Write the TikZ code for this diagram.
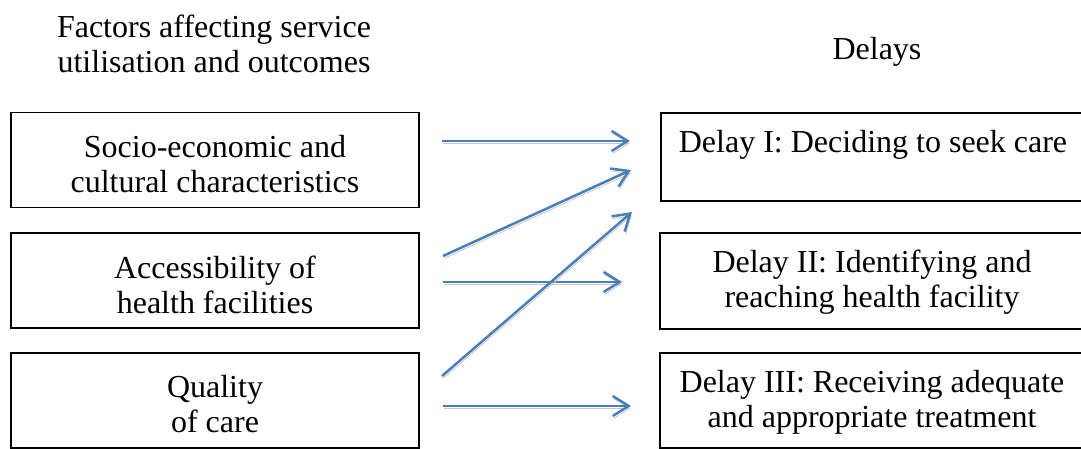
\documentclass[tikz,border=0pt]{standalone}
\usepackage{fontspec}
\setmainfont{Liberation Serif}
\usetikzlibrary{arrows.meta,calc}
\definecolor{arrblue}{HTML}{4A7EBB}
\definecolor{shadowgray}{HTML}{C8C8C8}
\begin{document}
\begin{tikzpicture}[x=0.5pt,y=-0.5pt,
  every node/.style={font=\fontsize{16}{17.5}\selectfont, align=center, inner sep=0pt},
  factorbox/.style={draw=black, line width=0.7pt, minimum width=204pt, minimum height=47.5pt},
  delaybox/.style={draw=black, line width=0.7pt, minimum width=212pt, minimum height=47.5pt},
  arr/.style={-{Straight Barb[length=8pt,width=10pt]}, line width=1.25pt, draw=arrblue,
    preaction={draw=shadowgray, transform canvas={xshift=0.5pt,yshift=-1.2pt}}}]
\useasboundingbox (0,0) rectangle (1081,449);
\node (h1) at (214,44) {Factors affecting service\\utilisation and outcomes};
\node (h2) at (877,52) {Delays};
\node[factorbox] (f1) at (215,160) {};
\node[factorbox] (f2) at (215,280.5) {};
\node[factorbox] (f3) at (215,400.5) {};
\node[delaybox, minimum height=44pt] (d1) at (873,157) {};
\node[delaybox, minimum height=48pt] (d2) at (872,281) {};
\node[delaybox] (d3) at (872,400.5) {};
\node (f1t) at ($(f1)+(0,4)$) {Socio-economic and\\cultural characteristics};
\node (f2t) at ($(f2)+(0,4)$) {Accessibility of\\health facilities};
\node (f3t) at ($(f3)+(0,4)$) {Quality\\of care};
\node (d1t) at ($(d1)+(0,-12)$) {Delay I: Deciding to seek care};
\node (d2t) at ($(d2)+(0,1)$) {Delay II: Identifying and\\reaching health facility};
\node (d3t) at ($(d3)+(0,2)$) {Delay III: Receiving adequate\\and appropriate treatment};
\coordinate (s1) at (442,141);
\coordinate (t1) at (630,141);
\coordinate (s2) at (443,256);
\coordinate (t2) at (631,170);
\coordinate (s3) at (442,376);
\coordinate (t3) at (632,212);
\coordinate (s4) at (443,282);
\coordinate (t4) at (622,282);
\coordinate (s5) at (443,406);
\coordinate (t5) at (631,406);
\draw[arr] (s1) -- (t1);
\draw[arr] (s2) -- (t2);
\draw[arr] (s4) -- (t4);
\draw[arr] (s3) -- (t3);
\draw[arr] (s5) -- (t5);
\end{tikzpicture}
\end{document}
